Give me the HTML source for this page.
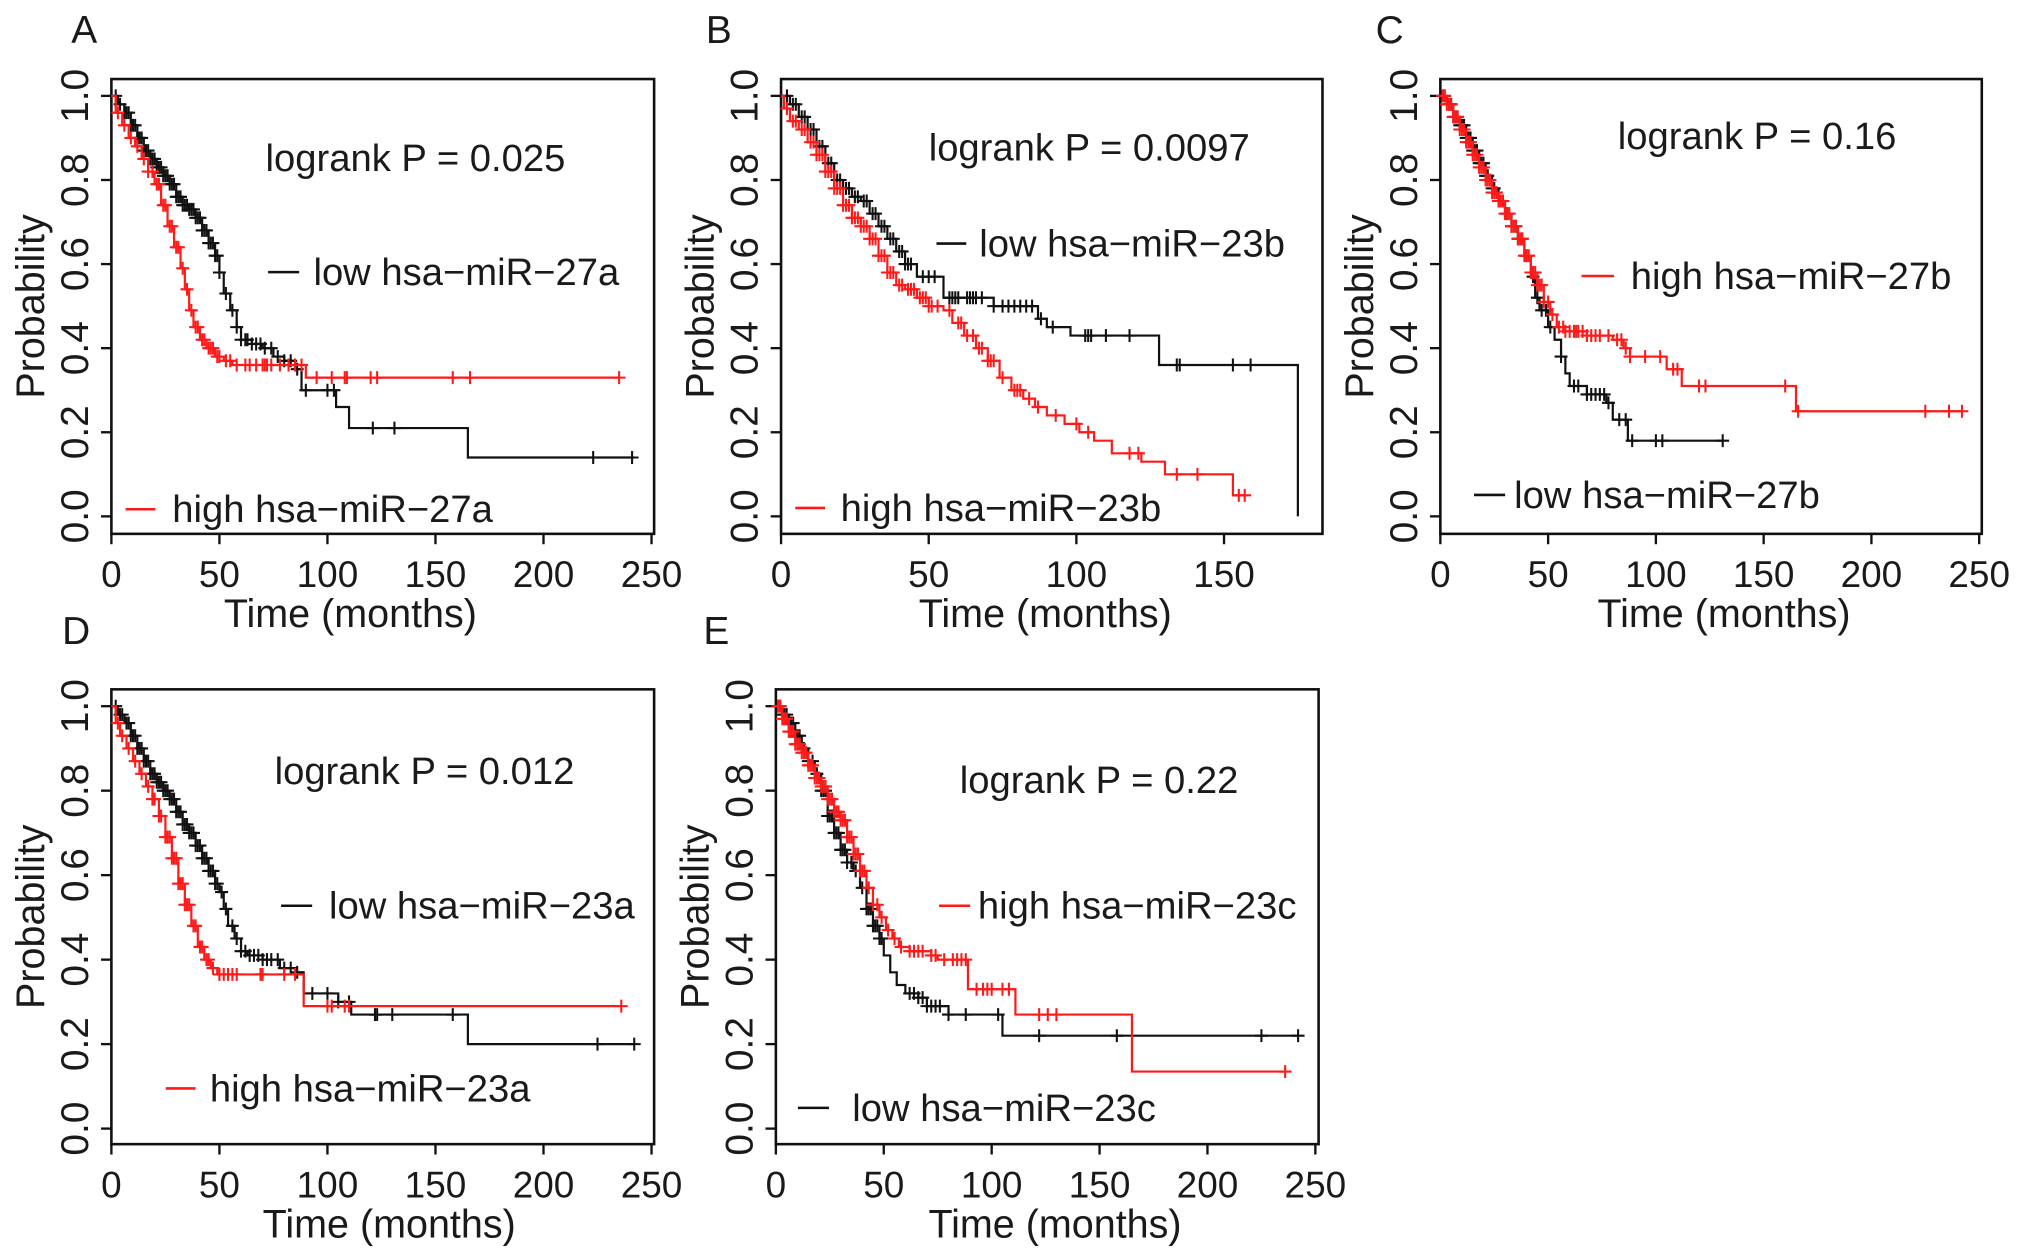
<!DOCTYPE html>
<html><head><meta charset="utf-8">
<style>
html,body{margin:0;padding:0;background:#fff;}
svg{display:block;}
text{font-family:"Liberation Sans",Arial,sans-serif;fill:#1a1a1a;}
</style></head>
<body>
<svg id="fig" width="2031" height="1253" viewBox="0 0 1568 967" preserveAspectRatio="none" xmlns="http://www.w3.org/2000/svg"></svg>
<script>
// ---------- Data ----------
const xTicks250 = [0,50,100,150,200,250];
const xTicks150 = [0,50,100,150];
const yTicks = [0,0.2,0.4,0.6,0.8,1.0];
const yTickLabels = ["0.0","0.2","0.4","0.6","0.8","1.0"];

const aLowSteps = [[0,1],[3,.98],[6,.96],[9,.93],[12,.90],[15,.87],[18,.85],[21,.83],[24,.81],[27,.79],[30,.76],[33,.74],[36,.73],[39,.71],[42,.68],[45,.65],[48,.62],[50,.58],[52,.53],[55,.49],[58,.45],[60,.42],[65,.41],[70,.40],[75,.38],[80,.37],[85,.35],[88,.30],[104,.26],[110,.21],[165,.14]];
const aLowEnd = 242;
const aLowCens = [2,4,6,7,8,9,10,11,12,13,14,15,16,17,18,19,20,21,22,23,24,25,26,27,28,29,30,31,32,33,34,35,36,37,38,39,40,41,42,43,44,45,46,47,48,49,50,53,56,58,60,62,63,65,67,69,71,74,77,80,83,86,90,100,103,121,131,223,241];
const aHighSteps = [[0,1],[2,.96],[5,.93],[8,.90],[11,.88],[14,.85],[17,.82],[20,.79],[23,.74],[26,.69],[29,.64],[32,.59],[34,.54],[36,.49],[38,.45],[41,.42],[44,.40],[48,.38],[52,.37],[56,.36],[90,.33]];
const aHighEnd = 235;
const aHighCens = [3,6,9,12,15,17,19,21,22,24,25,27,28,30,31,33,35,37,39,40,42,43,45,46,47,49,50,53,55,58,62,64,67,70,71,72,74,78,82,85,88,95,102,108,109,120,123,158,166,235];

const bLowSteps = [[0,1],[3,.98],[6,.95],[9,.92],[12,.88],[15,.84],[18,.80],[21,.78],[24,.76],[27,.75],[30,.72],[33,.69],[36,.66],[39,.63],[42,.60],[46,.57],[55,.52],[72,.50],[87,.47],[90,.45],[98,.43],[128,.36],[175,0]];
const bLowEnd = 175;
const bLowCens = [2,4,5,7,8,10,11,13,14,16,17,19,20,22,23,25,26,28,29,31,32,34,35,37,38,40,41,42,43,44,48,50,52,57,58,59,60,63,64,65,66,68,72,75,77,79,81,83,85,88,92,103,104,105,110,118,134,135,153,159];
const bHighSteps = [[0,1],[1,.97],[3,.94],[6,.92],[9,.89],[12,.86],[15,.82],[18,.78],[21,.74],[24,.71],[27,.69],[30,.66],[33,.62],[36,.58],[39,.55],[42,.54],[46,.52],[50,.50],[55,.49],[58,.46],[62,.43],[66,.40],[70,.37],[74,.33],[78,.30],[82,.28],[86,.26],[90,.24],[96,.22],[101,.20],[106,.18],[112,.15],[122,.13],[130,.10],[153,.05]];
const bHighEnd = 157;
const bHighCens = [2,4,5,7,8,10,11,12,13,14,15,16,17,18,19,20,21,22,23,24,25,26,27,28,29,30,31,32,33,34,35,36,37,38,40,41,43,44,45,47,48,49,50,51,53,57,60,61,63,65,67,68,70,71,72,75,79,80,81,84,87,93,100,104,118,121,134,141,155,157];

const cLowSteps = [[0,1],[3,.98],[6,.95],[9,.93],[12,.90],[15,.87],[18,.84],[21,.81],[24,.78],[27,.75],[30,.72],[33,.69],[36,.66],[39,.62],[42,.57],[44,.52],[46,.49],[50,.45],[53,.42],[56,.38],[58,.34],[60,.31],[68,.29],[77,.27],[80,.23],[87,.18]];
const cLowEnd = 131;
const cLowCens = [2,4,5,6,7,8,9,10,11,12,13,14,15,16,17,18,19,20,21,22,24,25,27,29,31,33,35,36,38,40,43,45,47,49,51,56,62,64,68,70,72,74,76,78,83,86,89,100,103,131];
const cHighSteps = [[0,1],[3,.98],[6,.95],[9,.92],[12,.89],[15,.86],[18,.83],[21,.80],[24,.77],[27,.75],[30,.72],[33,.69],[36,.66],[39,.62],[42,.58],[45,.55],[48,.51],[51,.48],[54,.45],[58,.44],[68,.43],[80,.42],[85,.40],[88,.38],[105,.35],[112,.31],[165,.25]];
const cHighEnd = 242;
const cHighCens = [1,2,3,4,5,6,7,8,9,10,11,12,13,14,15,16,17,18,19,20,21,22,23,24,25,26,27,28,29,30,31,32,33,34,35,36,37,38,39,40,41,42,43,44,45,46,47,48,50,52,55,57,58,60,62,63,64,66,68,70,72,74,78,82,84,86,88,95,102,108,110,120,123,160,166,225,236,242];

const dLowSteps = [[0,1],[3,.98],[6,.96],[9,.93],[12,.90],[15,.87],[18,.84],[21,.82],[24,.80],[27,.78],[30,.75],[33,.72],[36,.70],[39,.67],[42,.64],[45,.61],[48,.58],[50,.56],[52,.52],[54,.48],[57,.45],[60,.42],[63,.41],[70,.40],[78,.38],[85,.37],[89,.32],[105,.30],[111,.27],[165,.20]];
const dLowEnd = 242;
const dLowCens = [2,4,5,7,8,9,10,11,12,13,14,15,16,17,18,19,20,21,22,23,24,25,26,27,28,29,30,31,32,33,34,35,36,37,38,39,40,41,42,43,44,45,46,47,48,49,51,53,56,58,60,62,64,66,68,70,72,74,77,80,83,86,93,100,105,110,122,123,130,158,225,242];
const dHighSteps = [[0,1],[2,.96],[4,.93],[7,.90],[10,.87],[13,.84],[16,.81],[19,.78],[22,.74],[25,.69],[28,.64],[31,.58],[34,.53],[37,.48],[40,.43],[43,.40],[46,.38],[49,.365],[89,.29]];
const dHighEnd = 236;
const dHighCens = [3,5,8,11,14,17,19,20,22,23,25,26,27,28,29,30,31,32,33,34,35,36,38,39,41,42,44,45,47,50,52,54,56,58,69,70,80,85,100,102,108,110,236];

const eLowSteps = [[0,1],[3,.98],[6,.96],[9,.93],[12,.90],[15,.87],[18,.84],[21,.80],[24,.74],[27,.70],[30,.66],[33,.63],[36,.61],[39,.57],[42,.52],[45,.48],[48,.45],[50,.41],[53,.37],[56,.34],[60,.32],[66,.31],[70,.29],[80,.27],[105,.22]];
const eLowEnd = 242;
const eLowCens = [1,2,3,4,5,6,7,8,9,10,11,13,15,17,19,21,22,23,24,25,26,27,28,29,30,31,32,33,35,37,40,42,43,44,45,46,47,48,49,62,64,66,68,70,72,74,76,80,88,103,122,158,225,242];
const eHighSteps = [[0,1],[3,.97],[6,.94],[9,.91],[12,.89],[15,.86],[18,.83],[21,.81],[24,.78],[27,.75],[30,.73],[33,.69],[36,.65],[39,.61],[42,.57],[45,.53],[48,.50],[51,.47],[54,.45],[57,.43],[62,.42],[72,.41],[75,.40],[89,.33],[111,.27],[165,.135]];
const eHighEnd = 236;
const eHighCens = [1,2,3,4,5,6,7,8,9,10,11,12,13,14,15,16,17,18,19,20,21,22,23,24,25,26,27,28,29,30,31,32,33,34,35,36,37,38,39,40,41,43,45,47,49,52,55,58,62,64,66,68,72,74,78,82,84,86,88,93,96,98,100,105,108,122,126,130,236];

const pValues = ["0.025","0.0097","0.16","0.012","0.22"];

// ---------- Rendering ----------
const NS = "http://www.w3.org/2000/svg";
const svg = document.getElementById("fig");
function mk(tag, attrs, parent){
  const el = document.createElementNS(NS, tag);
  for (const k in attrs) el.setAttribute(k, attrs[k]);
  (parent||svg).appendChild(el);
  return el;
}
const RED = "#ff1a1a", BLK = "#111";

const panels = [
  {id:"a", letter:"A", lx:55, ly:33, bx0:86, bx1:505, by0:61, by1:412, x0px:86, tMax:250, tMaxPx:503, y1px:74, y0px:398.5, ticks:xTicks250, titleDx:-25,
   series:[{name:"low",steps:aLowSteps,end:aLowEnd,cens:aLowCens,col:BLK},{name:"high",steps:aHighSteps,end:aHighEnd,cens:aHighCens,col:RED}],
   p:pValues[0], pX:205, pY:122,
   legends:[{label:"low hsa\u2212miR\u221227a",col:BLK,d0:207,d1:231,y:210,tx:242},{label:"high hsa\u2212miR\u221227a",col:RED,d0:97,d1:120,y:393,tx:133}]},
  {id:"b", letter:"B", lx:545, ly:33, bx0:603, bx1:1021, by0:61, by1:412, x0px:603, tMax:150, tMaxPx:945, y1px:74, y0px:398.5, ticks:xTicks150, titleDx:-5,
   series:[{name:"low",steps:bLowSteps,end:bLowEnd,cens:bLowCens,col:BLK},{name:"high",steps:bHighSteps,end:bHighEnd,cens:bHighCens,col:RED}],
   p:pValues[1], pX:717, pY:114,
   legends:[{label:"low hsa\u2212miR\u221223b",col:BLK,d0:723,d1:746,y:188,tx:756},{label:"high hsa\u2212miR\u221223b",col:RED,d0:614,d1:637,y:392,tx:649}]},
  {id:"c", letter:"C", lx:1062, ly:33, bx0:1112, bx1:1530, by0:61, by1:412, x0px:1112, tMax:250, tMaxPx:1528, y1px:74, y0px:398.5, ticks:xTicks250, titleDx:10,
   series:[{name:"low",steps:cLowSteps,end:cLowEnd,cens:cLowCens,col:BLK},{name:"high",steps:cHighSteps,end:cHighEnd,cens:cHighCens,col:RED}],
   p:pValues[2], pX:1249, pY:105,
   legends:[{label:"high hsa\u2212miR\u221227b",col:RED,d0:1221,d1:1246,y:213,tx:1259},{label:"low hsa\u2212miR\u221227b",col:BLK,d0:1138,d1:1162,y:382,tx:1169}]},
  {id:"d", letter:"D", lx:48, ly:497, bx0:86, bx1:505, by0:532, by1:883, x0px:86, tMax:250, tMaxPx:503, y1px:545, y0px:871, ticks:xTicks250, titleDx:5,
   series:[{name:"low",steps:dLowSteps,end:dLowEnd,cens:dLowCens,col:BLK},{name:"high",steps:dHighSteps,end:dHighEnd,cens:dHighCens,col:RED}],
   p:pValues[3], pX:212, pY:595,
   legends:[{label:"low hsa\u2212miR\u221223a",col:BLK,d0:217,d1:241,y:699,tx:254},{label:"high hsa\u2212miR\u221223a",col:RED,d0:128,d1:151,y:840,tx:162}]},
  {id:"e", letter:"E", lx:543, ly:497, bx0:599, bx1:1018, by0:532, by1:883, x0px:599, tMax:250, tMaxPx:1015.5, y1px:545, y0px:871, ticks:xTicks250, titleDx:6,
   series:[{name:"low",steps:eLowSteps,end:eLowEnd,cens:eLowCens,col:BLK},{name:"high",steps:eHighSteps,end:eHighEnd,cens:eHighCens,col:RED}],
   p:pValues[4], pX:741, pY:602,
   legends:[{label:"high hsa\u2212miR\u221223c",col:RED,d0:725,d1:749,y:699,tx:755},{label:"low hsa\u2212miR\u221223c",col:BLK,d0:616,d1:640,y:855,tx:658}]}
];

function survAt(steps, t){
  let s = steps[0][1];
  for (const st of steps){ if (st[0] <= t) s = st[1]; else break; }
  return s;
}

panels.forEach(P => {
  const g = mk("g", {});
  
  
  const xs = t => P.x0px + t * (P.tMaxPx - P.x0px) / P.tMax;
  const ys = s => P.y0px + s * (P.y1px - P.y0px);

  const letter = mk("text", {x:P.lx, y:P.ly, "font-size":30}, g);
  letter.textContent = P.letter;
  
  

  const box = mk("rect", {x:P.bx0, y:P.by0, width:P.bx1-P.bx0, height:P.by1-P.by0, fill:"none", stroke:"#111", "stroke-width":2}, g);
  
  

  // x axis
  P.ticks.forEach(v => {
    const x = xs(v);
    const tk = mk("line", {x1:x, x2:x, y1:P.by1, y2:P.by1+8, stroke:"#111", "stroke-width":1.8}, g);
    
    
    const lb = mk("text", {x:x, y:P.by1+41, "font-size":28.5, "text-anchor":"middle"}, g);
    lb.textContent = v;
    
    
  });
  const xt = mk("text", {x:(P.bx0+P.bx1)/2 + P.titleDx, y:P.by1+72, "font-size":30.5, "text-anchor":"middle"}, g);
  xt.textContent = "Time (months)";
  
  

  // y axis
  yTicks.forEach((v, i) => {
    const y = ys(v);
    const tk = mk("line", {x1:P.bx0-8, x2:P.bx0, y1:y, y2:y, stroke:"#111", "stroke-width":1.8}, g);
    
    
    const lx = P.bx0 - 18;
    const lb = mk("text", {x:lx, y:y, "font-size":30, "text-anchor":"middle", transform:`rotate(-90 ${lx} ${y})`}, g);
    lb.textContent = yTickLabels[i];
    
    
  });
  const yc = (P.by0+P.by1)/2, yx = P.bx0 - 52;
  const yt = mk("text", {x:yx, y:yc, "font-size":30.5, "text-anchor":"middle", transform:`rotate(-90 ${yx} ${yc})`}, g);
  yt.textContent = "Probability";
  
  

  // curves
  P.series.forEach(S => {
    let d = `M${xs(S.steps[0][0])},${ys(S.steps[0][1])}`;
    for (let i = 1; i < S.steps.length; i++){
      d += ` H${xs(S.steps[i][0])} V${ys(S.steps[i][1])}`;
    }
    d += ` H${xs(S.end)}`;
    const path = mk("path", {d:d, fill:"none", stroke:S.col, "stroke-width":1.7}, g);
    
    
    S.cens.forEach(t => {
      const cx = xs(t), cy = ys(survAt(S.steps, t));
      const c = mk("path", {d:`M${cx-5},${cy} H${cx+5} M${cx},${cy-5} V${cy+5}`, stroke:S.col, "stroke-width":1.6, fill:"none"}, g);
      
      
    });
  });

  // annotation
  const pt = mk("text", {x:P.pX, y:P.pY+10, "font-size":29.5}, g);
  pt.textContent = "logrank P = " + P.p;
  
  

  P.legends.forEach(L => {
    const ln = mk("line", {x1:L.d0, x2:L.d1, y1:L.y, y2:L.y, stroke:L.col, "stroke-width":2}, g);
    
    
    const lt = mk("text", {x:L.tx, y:L.y+10, "font-size":29.5}, g);
    lt.textContent = L.label;
    
    
  });
});
</script>
</body></html>
